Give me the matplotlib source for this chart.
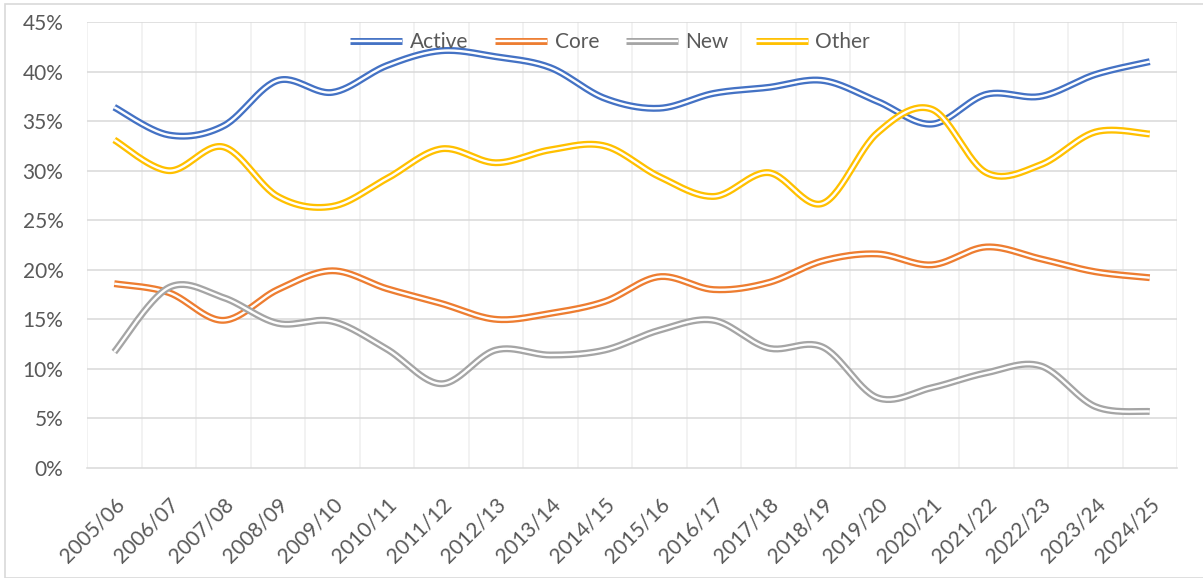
import numpy as np
import matplotlib.pyplot as plt
from matplotlib.lines import Line2D
from matplotlib.legend_handler import HandlerTuple
from matplotlib.patches import Rectangle
import matplotlib.transforms as mtransforms

plt.rcParams['font.family'] = ['Lato', 'DejaVu Sans']

# dados (percentuais)
anos = ["2005/06", "2006/07", "2007/08", "2008/09", "2009/10", "2010/11", "2011/12",
        "2012/13", "2013/14", "2014/15", "2015/16", "2016/17", "2017/18", "2018/19",
        "2019/20", "2020/21", "2021/22", "2022/23", "2023/24", "2024/25"]
active = [36.4, 33.6, 34.5, 39.1, 37.9, 40.6, 42.1, 41.5, 40.4, 37.3,
          36.3, 37.8, 38.4, 39.1, 37.0, 34.7, 37.7, 37.5, 39.7, 41.0]
core = [18.6, 17.7, 14.9, 18.0, 19.9, 18.1, 16.6, 15.0, 15.6, 16.8,
        19.3, 18.0, 18.7, 20.9, 21.6, 20.5, 22.3, 21.1, 19.8, 19.2]
new = [11.7, 18.2, 17.2, 14.6, 14.8, 12.0, 8.5, 11.9, 11.4, 11.9,
       13.9, 14.9, 12.1, 12.2, 7.1, 8.1, 9.6, 10.3, 6.2, 5.7]
other = [33.1, 30.0, 32.4, 27.4, 26.4, 29.2, 32.2, 30.8, 32.1, 32.5,
         29.4, 27.4, 29.8, 26.7, 33.8, 36.2, 29.8, 30.6, 33.9, 33.7]

series = [("Active", active, "#4472C4"), ("Core", core, "#ED7D31"),
          ("New", new, "#A5A5A5"), ("Other", other, "#FFC000")]


def suavizar(y, n=30):  # curva suave tipo Excel (Bezier Catmull-Rom)
    x = np.arange(len(y), dtype=float)
    y = np.asarray(y, dtype=float) / 100
    xs, ys = [], []
    t = np.linspace(0, 1, n)
    for i in range(len(y) - 1):
        i0, i2 = max(i - 1, 0), min(i + 2, len(y) - 1)
        p0 = np.array([x[i], y[i]])
        p3 = np.array([x[i + 1], y[i + 1]])
        c1 = p0 + (p3 - np.array([x[i0], y[i0]])) / 6
        c2 = p3 - (np.array([x[i2], y[i2]]) - p0) / 6
        b = ((1 - t) ** 3)[:, None] * p0 + (3 * (1 - t) ** 2 * t)[:, None] * c1 \
            + (3 * (1 - t) * t ** 2)[:, None] * c2 + (t ** 3)[:, None] * p3
        xs.extend(b[:, 0])
        ys.extend(b[:, 1])
    return xs, ys


fig = plt.figure(figsize=(12.03, 5.78), dpi=100)
ax = fig.add_axes([87 / 1203, (578 - 468) / 578, 1090 / 1203, 446 / 578])

fig.patches.append(Rectangle((5 / 1203, 0), 1.2, 1 - 4 / 578, transform=fig.transFigure,
                             fill=False, edgecolor="#D9D9D9", linewidth=1.2, zorder=0))

handles = []
z = 3
for nome, valores, cor in series:
    xs, ys = suavizar(valores)
    ax.plot(xs, ys, color=cor, linewidth=5.0, solid_capstyle="butt", zorder=z)
    ax.plot(xs, ys, color="white", linewidth=1.7, solid_capstyle="butt", zorder=z + 0.5)
    z += 1
    handles.append((Line2D([], [], color=cor, linewidth=5.0, solid_capstyle="butt"),
                    Line2D([], [], color="white", linewidth=1.7, solid_capstyle="butt")))

ax.set_xlim(-0.5, len(anos) - 0.5)
ax.set_ylim(0, 0.45)
ax.set_yticks(np.arange(0, 0.451, 0.05))
ax.set_yticklabels([f"{int(round(v * 100))}%" for v in np.arange(0, 0.451, 0.05)])

ax.set_xticks(np.arange(len(anos)))
ax.set_xticklabels(anos, rotation=45, ha="right", va="top", rotation_mode="anchor")
desloc = mtransforms.ScaledTranslation(4 / 100, 0, fig.dpi_scale_trans)
for lbl in ax.get_xticklabels():
    lbl.set_transform(lbl.get_transform() + desloc)

ax.tick_params(axis="x", length=0, pad=19, labelsize=15, labelcolor="#595959")
ax.tick_params(axis="y", length=0, pad=17, labelsize=15, labelcolor="#595959")

# grades
for v in np.arange(0.05, 0.451, 0.05):
    ax.axhline(v, color="#D9D9D9", linewidth=1.1, zorder=1)
for b in np.arange(-0.5, len(anos), 1.0):
    ax.axvline(b, color="#EFEFEF", linewidth=1.1, zorder=0.5)

for lado in ["top", "right", "left"]:
    ax.spines[lado].set_visible(False)
ax.spines["bottom"].set_color("#D9D9D9")
ax.spines["bottom"].set_linewidth(1.1)
ax.spines["bottom"].set_zorder(1)

fig.legend(handles, [s[0] for s in series], handler_map={tuple: HandlerTuple(ndivide=1)},
           loc="center", bbox_to_anchor=(610 / 1203, 1 - 42 / 578), ncol=4, frameon=False,
           fontsize=15, labelcolor="#595959", handlelength=2.5, handletextpad=0.35,
           columnspacing=1.3)

fig.savefig("out.png", dpi=100)
